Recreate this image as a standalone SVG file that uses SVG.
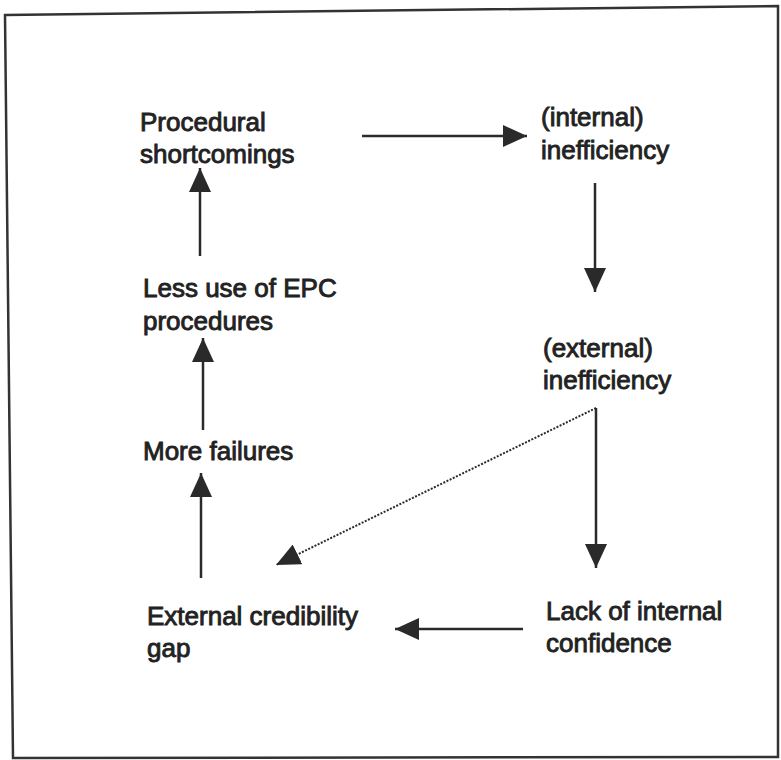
<svg xmlns="http://www.w3.org/2000/svg" width="781" height="760" viewBox="0 0 781 760">
<style>
.t{font-family:"Liberation Sans",Arial,sans-serif;font-size:26px;fill:#222;stroke:#222;stroke-width:0.9}
.c{stroke:#2a2a2a;stroke-width:2.5;fill:none}
.d{stroke:#2a2a2a;stroke-width:2;fill:none;stroke-dasharray:2 1.5}
</style>
<defs>
<marker id="ah" markerUnits="userSpaceOnUse" markerWidth="24" markerHeight="22" refX="24" refY="11" orient="auto">
<path d="M0,0 L24,11 L0,22 Z" fill="#2a2a2a"/>
</marker>
</defs>
<rect width="781" height="760" fill="#fff"/>
<polygon points="5,15 778,6 778,757 13,758" fill="none" stroke="#333" stroke-width="2.5"/>
<g id="connectors">
<line class="c" x1="362" y1="136" x2="527" y2="136" marker-end="url(#ah)"/>
<line class="c" x1="595" y1="183" x2="595" y2="292" marker-end="url(#ah)"/>
<line class="c" x1="596" y1="408" x2="596" y2="568" marker-end="url(#ah)"/>
<line class="d" x1="596" y1="408" x2="276" y2="565" marker-end="url(#ah)"/>
<line class="c" x1="523" y1="629" x2="395" y2="629" marker-end="url(#ah)"/>
<line class="c" x1="201" y1="578" x2="201" y2="473" marker-end="url(#ah)"/>
<line class="c" x1="203" y1="430" x2="203" y2="338" marker-end="url(#ah)"/>
<line class="c" x1="200" y1="256" x2="200" y2="168" marker-end="url(#ah)"/>
</g>
<g id="procedural-shortcomings"><text class="t" x="140" y="131">Procedural</text><text class="t" x="140" y="163">shortcomings</text></g>
<g id="internal-inefficiency"><text class="t" x="541" y="126">(internal)</text><text class="t" x="541" y="159">inefficiency</text></g>
<g id="less-use"><text class="t" x="143" y="297">Less use of EPC</text><text class="t" x="143" y="330">procedures</text></g>
<g id="external-inefficiency"><text class="t" x="543" y="357">(external)</text><text class="t" x="543" y="389">inefficiency</text></g>
<g id="more-failures"><text class="t" x="143" y="460">More failures</text></g>
<g id="external-credibility-gap"><text class="t" x="147" y="625">External credibility</text><text class="t" x="147" y="657">gap</text></g>
<g id="lack-of-confidence"><text class="t" x="546" y="620">Lack of internal</text><text class="t" x="546" y="652">confidence</text></g>
</svg>
